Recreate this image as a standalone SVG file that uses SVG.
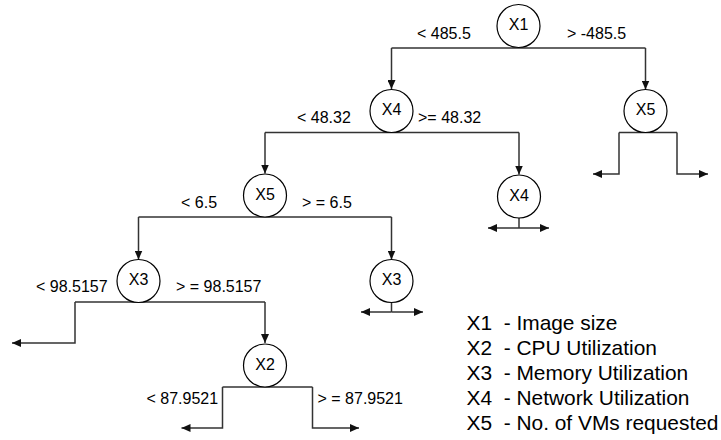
<svg xmlns="http://www.w3.org/2000/svg" width="721" height="440" viewBox="0 0 721 440">
  <style>
    .node circle { fill: #ffffff; stroke: #000000; stroke-width: 1.2; }
    .node text { font-family: "Liberation Sans", Arial, sans-serif; font-size: 16px; fill: #000000; text-anchor: middle; }
    .edge { fill: none; stroke: #333333; stroke-width: 1.5; }
    .arrow { marker-end: url(#head); }
    .label { font-family: "Liberation Sans", Arial, sans-serif; font-size: 16px; fill: #000000; }
    .legend text { font-family: "Liberation Sans", Arial, sans-serif; font-size: 20.9px; fill: #000000; }
  </style>
  <defs>
    <marker id="head" markerUnits="userSpaceOnUse" markerWidth="10" markerHeight="8" refX="9" refY="4" orient="auto">
      <path d="M0,0 L9,4 L0,8 Z" fill="#111111"/>
    </marker>
  </defs>

  <rect width="721" height="440" fill="#ffffff"/>

  <!-- connectors -->
  <g id="connectors">
    <!-- X1 split -->
    <path class="edge" d="M391.5,48 H645.5"/>
    <path class="edge arrow" d="M391.5,48 V89"/>
    <path class="edge arrow" d="M645.5,48 V89.5"/>
    <!-- X4 split -->
    <path class="edge" d="M265,132.5 H519"/>
    <path class="edge arrow" d="M265,132.5 V173.5"/>
    <path class="edge arrow" d="M519,132.5 V174.5"/>
    <!-- X5 (right) leaves -->
    <path class="edge arrow" d="M619,132.5 V174 H593"/>
    <path class="edge arrow" d="M677,132.5 V174 H708"/>
    <path class="edge" d="M619,132.5 H677"/>
    <!-- X4 (right) leaves -->
    <path class="edge" d="M519,218 V228"/>
    <path class="edge arrow" d="M519,228 H488"/>
    <path class="edge arrow" d="M519,228 H549"/>
    <!-- X5 split -->
    <path class="edge" d="M138.5,217 H391.5"/>
    <path class="edge arrow" d="M138.5,217 V259.5"/>
    <path class="edge arrow" d="M391.5,217 V259.5"/>
    <!-- X3 (left) split -->
    <path class="edge" d="M75,302 H265"/>
    <path class="edge arrow" d="M75,302 V343 H12"/>
    <path class="edge arrow" d="M265,302 V343"/>
    <!-- X3 (right) leaves -->
    <path class="edge" d="M391.5,302.5 V312"/>
    <path class="edge arrow" d="M391.5,312 H361"/>
    <path class="edge arrow" d="M391.5,312 H423"/>
    <!-- X2 leaves -->
    <path class="edge" d="M222.5,387 H312.5"/>
    <path class="edge arrow" d="M222.5,387 V428 H181.5"/>
    <path class="edge arrow" d="M312.5,387 V428 H359"/>
  </g>

  <!-- split thresholds -->
  <g id="edge-labels">
    <text class="label" x="417" y="39">&lt; 485.5</text>
    <text class="label" x="567" y="39">&gt; -485.5</text>
    <text class="label" x="297" y="123">&lt; 48.32</text>
    <text class="label" x="418" y="123">&gt;= 48.32</text>
    <text class="label" x="181" y="208">&lt; 6.5</text>
    <text class="label" x="302" y="208">&gt; = 6.5</text>
    <text class="label" x="36" y="292">&lt; 98.5157</text>
    <text class="label" x="176" y="292">&gt; = 98.5157</text>
    <text class="label" x="146.5" y="404">&lt; 87.9521</text>
    <text class="label" x="317.5" y="404">&gt; = 87.9521</text>
  </g>

  <!-- nodes -->
  <g id="node-x1" class="node">
    <circle cx="518.5" cy="26" r="21.5"/>
    <text x="518.5" y="30">X1</text>
  </g>
  <g id="node-x4-top" class="node">
    <circle cx="391.5" cy="111" r="21.5"/>
    <text x="391.5" y="115">X4</text>
  </g>
  <g id="node-x5-right" class="node">
    <circle cx="645.5" cy="111" r="21.5"/>
    <text x="645.5" y="115">X5</text>
  </g>
  <g id="node-x5" class="node">
    <circle cx="265" cy="195.5" r="21.5"/>
    <text x="265" y="199.5">X5</text>
  </g>
  <g id="node-x4-right" class="node">
    <circle cx="519" cy="196.5" r="21.5"/>
    <text x="519" y="200.5">X4</text>
  </g>
  <g id="node-x3-left" class="node">
    <circle cx="138.5" cy="281" r="21.5"/>
    <text x="138.5" y="285">X3</text>
  </g>
  <g id="node-x3-right" class="node">
    <circle cx="391.5" cy="281" r="21.5"/>
    <text x="391.5" y="285">X3</text>
  </g>
  <g id="node-x2" class="node">
    <circle cx="265" cy="365.5" r="21.5"/>
    <text x="265" y="369.5">X2</text>
  </g>

  <!-- variable key -->
  <g id="legend" class="legend">
    <text x="466.5" y="330">X1&#160; - Image size</text>
    <text x="466.5" y="355">X2&#160; - CPU Utilization</text>
    <text x="466.5" y="380">X3&#160; - Memory Utilization</text>
    <text x="466.5" y="405">X4&#160; - Network Utilization</text>
    <text x="466.5" y="430">X5&#160; - No. of VMs requested</text>
  </g>
</svg>
